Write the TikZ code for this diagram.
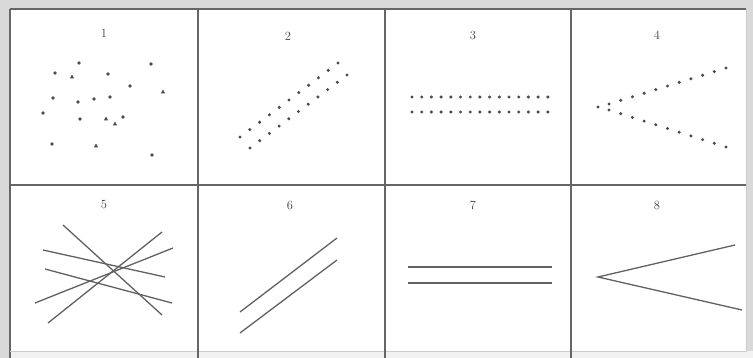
\documentclass[tikz,border=0pt]{standalone}
\begin{document}
\begin{tikzpicture}[x=1pt,y=-1pt,
  grid/.style={draw=black!60,line width=1.3pt},
  num/.style={font=\fontsize{12.5}{12.5}\selectfont,text=black!75,inner sep=0pt},
  dot/.style={fill=black!70},
  seg/.style={draw=black!62,line width=1.3pt}]
\useasboundingbox (0,0) rectangle (753,358);
\fill[black!15] (0,0) rectangle (753,358);
\fill[white] (10,9) rectangle (746,351);
\fill[black!5] (10,351) rectangle (753,358);
% grid
\draw[grid] (10,9) -- (10,358);
\draw[grid] (10,9) -- (746,9);
\draw[draw=black!20,line width=1pt] (746,9) -- (746,351) -- (10,351);
\draw[grid] (198,9) -- (198,358);
\draw[grid] (385,9) -- (385,358);
\draw[grid] (571,9) -- (571,358);
\draw[grid] (10,185) -- (746,185);
% numbers
\node[num] (n1) at (104,33) {1};
\node[num] (n2) at (288,36) {2};
\node[num] (n3) at (473,35) {3};
\node[num] (n4) at (657,35) {4};
\node[num] (n5) at (104,204) {5};
\node[num] (n6) at (290,205) {6};
\node[num] (n7) at (473,205) {7};
\node[num] (n8) at (657,205) {8};
% cell 1: scattered points
\foreach \p in {(55,73),(79,63),(108,74),(151,64),(130,86),(53,98),(78,102),(94,99),(110,97),(43,113),(80,119),(123,117),(52,144),(152,155)}
  \fill[dot] \p circle (1.8);
\foreach \x/\y in {72/77,163/92,106/119,115/124,96/146}
  \fill[dot] (\x,\y-2.4) -- (\x+2.2,\y+1.5) -- (\x-2.2,\y+1.5) -- cycle;
% cell 2: two diagonal dotted rows
\foreach \i in {0,...,10}
  \fill[dot] ({240+9.8*\i},{137-7.4*\i}) circle (1.7);
\foreach \i in {0,...,10}
  \fill[dot] ({250+9.7*\i},{148-7.3*\i}) circle (1.7);
% cell 3: two horizontal dotted rows
\foreach \i in {0,...,14}
  \fill[dot] ({412+9.7*\i},97) circle (1.7);
\foreach \i in {0,...,14}
  \fill[dot] ({412+9.7*\i},112) circle (1.7);
% cell 4: diverging dotted rows
\fill[dot] (598,107) circle (1.7);
\foreach \i in {0,...,10}
  \fill[dot] ({609+11.7*\i},{104-3.6*\i}) circle (1.7);
\foreach \i in {0,...,10}
  \fill[dot] ({609+11.7*\i},{110+3.7*\i}) circle (1.7);
% cell 5: random lines
\draw[seg] (63,225) -- (162,315);
\draw[seg] (48,323) -- (162,232);
\draw[seg] (35,303) -- (173,248);
\draw[seg] (43,250) -- (165,277);
\draw[seg] (45,269) -- (172,303);
% cell 6: two parallel diagonal lines
\draw[seg] (240,312) -- (337,238);
\draw[seg] (240,333) -- (337,260);
% cell 7: two horizontal lines
\draw[seg] (408,267) -- (552,267);
\draw[seg] (408,283) -- (552,283);
% cell 8: diverging lines
\draw[seg] (735,245) -- (598,277) -- (742,310);
\end{tikzpicture}
\end{document}
